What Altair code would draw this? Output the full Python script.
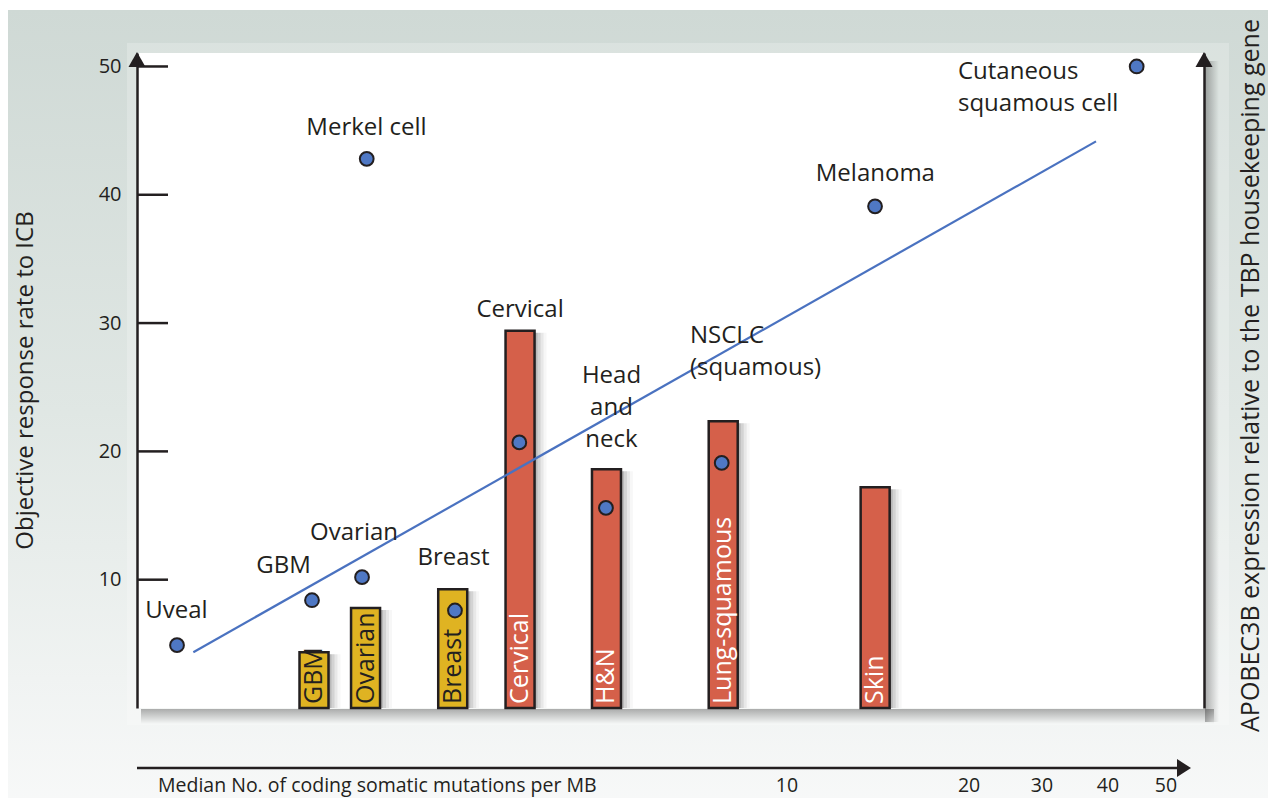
import altair as alt
import pandas as pd

# ---------------- data ----------------
# horizontal position along the (schematic) mutation-burden axis, 0-100
pt_names = ["Uveal", "GBM", "Ovarian", "Merkel cell", "Breast", "Cervical",
            "Head and neck", "NSCLC (squamous)", "Melanoma", "Cutaneous squamous cell"]
pt_pos = [3.75, 16.40, 21.09, 21.53, 29.80, 35.83, 43.95, 54.80, 69.17, 93.69]
pt_orr = [4.9, 8.4, 10.2, 42.8, 7.6, 20.7, 15.6, 19.1, 39.1, 50.0]

bar_names = ["GBM", "Ovarian", "Breast", "Cervical", "H&N", "Lung-squamous", "Skin"]
bar_pos = [16.59, 21.42, 29.59, 35.90, 44.00, 54.94, 69.18]
bar_apobec = [4.35, 7.8, 9.25, 29.4, 18.6, 22.35, 17.2]
bar_group = ["low", "low", "low", "high", "high", "high", "high"]

trend_pos = [5.28, 89.88]
trend_val = [4.35, 44.16]

lab_c_text = ["Uveal", "GBM", "Ovarian", "Merkel cell", "Breast", "Cervical",
              "Head\nand\nneck", "Melanoma"]
lab_c_pos = [3.70, 13.73, 20.34, 21.51, 29.66, 35.90, 44.47, 69.20]
lab_c_val = [6.98, 10.53, 13.06, 44.68, 11.11, 30.48, 25.36, 41.09]

lab_l_text = ["NSCLC\n(squamous)", "Cutaneous\nsquamous cell"]
lab_l_pos = [51.83, 76.94]
lab_l_val = [28.42, 49.0]

y_ticks = [10, 20, 30, 40, 50]
x_tick_labels = ["10", "20", "30", "40", "50"]
x_tick_pos = [60.92, 77.98, 84.82, 91.00, 96.44]

x_title = "Median No. of coding somatic mutations per MB"
y_title = "Objective response rate to ICB"
y2_title = "APOBEC3B expression relative to the TBP housekeeping gene"

# ---------------- styling ----------------
W, H = 1067, 655
FONT = "Open Sans"
INK = "#231f20"
RED = "#d5604a"
YEL = "#dfb322"
BLUE = "#4f78c4"

xs = alt.Scale(domain=[0, 100], nice=False, zero=False, padding=0)
ys = alt.Scale(domain=[0, 51.05], nice=False, zero=False, padding=0)

one = pd.DataFrame({"k": [0]})
pts = pd.DataFrame({"name": pt_names, "pos": pt_pos, "val": pt_orr})
bars = pd.DataFrame({"name": bar_names, "pos": bar_pos, "val": bar_apobec, "group": bar_group})
trend = pd.DataFrame({"pos": trend_pos, "val": trend_val})
labc = pd.DataFrame({"text": lab_c_text, "pos": lab_c_pos, "val": lab_c_val})
labl = pd.DataFrame({"text": lab_l_text, "pos": lab_l_pos, "val": lab_l_val})
yt = pd.DataFrame({"val": y_ticks})
xt = pd.DataFrame({"text": x_tick_labels, "pos": x_tick_pos})

X = lambda **kw: alt.X("pos:Q", scale=xs, **kw)
Y = lambda **kw: alt.Y("val:Q", scale=ys, **kw)

AX = dict(grid=False, domainColor=INK, domainWidth=2.5, labelFont=FONT, labelFontSize=20,
          labelColor=INK, titleFont=FONT, titleFontWeight="normal",
          titleColor=INK, ticks=False, zindex=2)

bg = alt.Chart(one).mark_rect(
    color=alt.Gradient(gradient="linear", x1=0, x2=0, y1=0, y2=1,
                       stops=[alt.GradientStop(color="#cfd9d5", offset=0),
                              alt.GradientStop(color="#e0e7e4", offset=0.5),
                              alt.GradientStop(color="#f8f9f9", offset=1)])
).encode(x=alt.value(-129), x2=alt.value(1139), y=alt.value(-43), y2=alt.value(760))

frame = alt.Chart(one).mark_rect(color="white", opacity=0.22).encode(
    x=alt.value(-10), x2=alt.value(1092), y=alt.value(-10), y2=alt.value(672))

plotbg = alt.Chart(one).mark_rect(color="white").encode(
    x=alt.value(0), x2=alt.value(W), y=alt.value(0), y2=alt.value(H))

shadow_b = alt.Chart(one).mark_rect(
    color=alt.Gradient(gradient="linear", x1=0, x2=0, y1=0, y2=1,
                       stops=[alt.GradientStop(color="rgba(0,0,0,0.30)", offset=0),
                              alt.GradientStop(color="rgba(0,0,0,0)", offset=1)])
).encode(x=alt.value(4), x2=alt.value(W + 10), y=alt.value(H + 1), y2=alt.value(H + 16))

shadow_r = alt.Chart(one).mark_rect(
    color=alt.Gradient(gradient="linear", x1=0, x2=1, y1=0, y2=0,
                       stops=[alt.GradientStop(color="rgba(0,0,0,0.30)", offset=0),
                              alt.GradientStop(color="rgba(0,0,0,0)", offset=1)])
).encode(x=alt.value(W + 1), x2=alt.value(W + 15), y=alt.value(8), y2=alt.value(H + 14))

bar_shadows = [
    alt.Chart(bars).mark_bar(size=29, orient="vertical", color="black", opacity=op,
                             xOffset=off, yOffset=2).encode(
        x=X(axis=None), y=Y(axis=None, stack=None))
    for off, op in [(3, 0.12), (6, 0.09), (9, 0.06), (12, 0.03)]
]

bar_layer = alt.Chart(bars).mark_bar(size=29, orient="vertical", stroke=INK,
                                     strokeWidth=2.5).encode(
    x=X(axis=alt.Axis(labels=False, title=None, domain=True, **AX)),
    y=Y(stack=None, axis=alt.Axis(orient="right", labels=False, title=y2_title,
                                  titleFontSize=25, titleX=46, titleY=322, titleAngle=270,
                                  titleAlign="center", titleBaseline="middle", **AX)),
    fill=alt.Fill("group:N", scale=alt.Scale(domain=["low", "high"], range=[YEL, RED]),
                  legend=None),
)

bar_text_dark = alt.Chart(bars).transform_filter(alt.datum.group == "low").mark_text(
    angle=270, align="left", baseline="middle", font=FONT, fontSize=25, color=INK
).encode(x=X(axis=None), y=alt.value(651), text="name:N")

bar_text_light = alt.Chart(bars).transform_filter(alt.datum.group == "high").mark_text(
    angle=270, align="left", baseline="middle", font=FONT, fontSize=25, color="white"
).encode(x=X(axis=None), y=alt.value(651), text="name:N")

trend_layer = alt.Chart(trend).mark_line(color="#4a72c0", strokeWidth=2.2).encode(
    x=X(axis=None), y=Y(axis=None))

ticks_layer = alt.Chart(yt).mark_rule(color=INK, strokeWidth=2.5).encode(
    x=alt.value(0), x2=alt.value(31), y=Y(axis=None))

pt_layer = alt.Chart(pts).mark_circle(size=190, color=BLUE, stroke=INK, strokeWidth=2,
                                      opacity=1).encode(
    x=X(axis=None),
    y=Y(axis=alt.Axis(orient="left", values=y_ticks, labelPadding=16, title=y_title,
                      titleFontSize=24, titleX=-112, titleY=327, titleAngle=270,
                      titleAlign="center", titleBaseline="middle", **AX)),
)

labc_layer = alt.Chart(labc).mark_text(font=FONT, fontSize=24, color=INK, align="center",
                                       baseline="alphabetic", lineBreak="\n",
                                       lineHeight=32).encode(
    x=X(axis=None), y=Y(axis=None), text="text:N")

labl_layer = alt.Chart(labl).mark_text(font=FONT, fontSize=24, color=INK, align="left",
                                       baseline="alphabetic", lineBreak="\n",
                                       lineHeight=32).encode(
    x=X(axis=None), y=Y(axis=None), text="text:N")

up_arrow = "M -1 0.88 L 0 -0.88 L 1 0.88 Z"
right_arrow = "M -0.78 -1 L 0.78 0 L -0.78 1 Z"

arrow_l = alt.Chart(one).mark_point(shape=up_arrow, size=289, filled=True, color=INK,
                                    opacity=1).encode(x=alt.value(0), y=alt.value(6.5))
arrow_r = alt.Chart(one).mark_point(shape=up_arrow, size=289, filled=True, color=INK,
                                    opacity=1).encode(x=alt.value(W), y=alt.value(6.5))

low_rule = alt.Chart(one).mark_rule(color=INK, strokeWidth=2.5).encode(
    x=alt.value(0), x2=alt.value(1044), y=alt.value(715))
arrow_b = alt.Chart(one).mark_point(shape=right_arrow, size=324, filled=True, color=INK,
                                    opacity=1).encode(x=alt.value(1047), y=alt.value(715))

xt_layer = alt.Chart(xt).mark_text(font=FONT, fontSize=19.5, color=INK, align="center",
                                   baseline="alphabetic").encode(
    x=X(axis=None), y=alt.value(739), text="text:N")

xtitle_layer = alt.Chart(pd.DataFrame({"t": [x_title]})).mark_text(
    font=FONT, fontSize=19.5, color=INK, align="left", baseline="alphabetic").encode(
    x=alt.value(21), y=alt.value(739), text="t:N")

chart = alt.layer(
    bg, frame, plotbg, shadow_b, shadow_r, *bar_shadows, bar_layer, bar_text_dark,
    bar_text_light, trend_layer, ticks_layer, pt_layer, labc_layer, labl_layer,
    arrow_l, arrow_r, low_rule, arrow_b, xt_layer, xtitle_layer
).resolve_axis(y="independent").properties(
    width=W, height=H,
    padding={"left": 129, "top": 45, "right": 64, "bottom": 90},
    autosize=alt.AutoSizeParams(type="none"),
    background="white",
).configure_view(stroke=None)

chart.save("out.html", embed_options={"renderer": "svg", "actions": False})
